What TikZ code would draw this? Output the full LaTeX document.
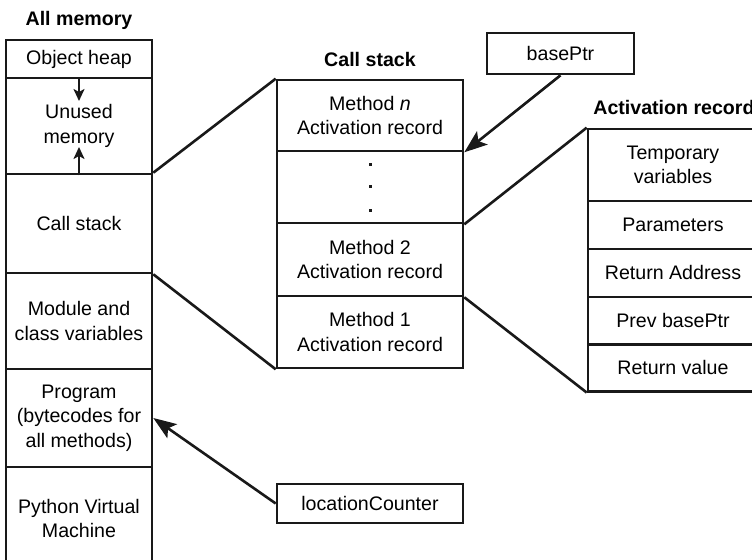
\documentclass[tikz,border=0pt]{standalone}
\usepackage{fontspec}
\setmainfont{Liberation Sans}
\usetikzlibrary{arrows.meta}
\tikzset{
  cell/.style={draw=black!90, line width=1.3pt, rectangle, inner sep=0pt, align=center,
    font=\fontsize{9.8}{12.3}\selectfont},
  ttl/.style={font=\fontsize{9.8}{12}\selectfont\bfseries, inner sep=0pt},
  conn/.style={draw=black!90, line width=1.3pt},
  bigarrow/.style={conn, -{Stealth[length=11.5pt,width=8.5pt,inset=2.5pt]}},
  smallarrow/.style={conn, -{Stealth[length=6pt,width=5.5pt,inset=1.5pt]}}
}
\begin{document}
\begin{tikzpicture}[x=0.5pt,y=-0.5pt]
\useasboundingbox (0,0) rectangle (752,560);
\clip (0,0) rectangle (752,560);
% All memory column
\node[ttl] (tall) at (79,20) {All memory};
\node[cell, minimum width=73pt, minimum height=19pt] (heap) at (79,59) {Object heap};
\node[cell, minimum width=73pt, minimum height=48pt] (unused) at (79,126) {Unused\\memory};
\node[cell, minimum width=73pt, minimum height=49.5pt] (cs) at (79,223.5) {Call stack};
\node[cell, minimum width=73pt, minimum height=48pt] (mod) at (79,321) {Module and\\class variables};
\node[cell, minimum width=73pt, minimum height=49pt] (prog) at (79,418) {Program\\(bytecodes for\\all methods)};
\node[cell, minimum width=73pt, minimum height=51.5pt] (pvm) at (79,518.5) {Python Virtual\\Machine};
\coordinate (hd) at (79,101);
\coordinate (uu) at (79,147);
\draw[smallarrow] (heap.south) -- (hd);
\draw[smallarrow] (unused.south) -- (uu);
% Call stack
\node[ttl] (tcs) at (370,60) {Call stack};
\node[cell, minimum width=93pt, minimum height=35.5pt] (mn) at (370,115.5) {Method \textit{n}\\Activation record};
\node[cell, minimum width=93pt, minimum height=36pt] (dots) at (370,187) {};
\fill[black!90] (368.5,163.5) rectangle (371.5,166.5);
\fill[black!90] (368.5,185.5) rectangle (371.5,188.5);
\fill[black!90] (368.5,209.5) rectangle (371.5,212.5);
\node[cell, minimum width=93pt, minimum height=36.5pt] (m2) at (370,259.5) {Method 2\\Activation record};
\node[cell, minimum width=93pt, minimum height=36pt] (m1) at (370,332) {Method 1\\Activation record};
\draw[conn] (cs.north east) -- (mn.north west);
\draw[conn] (cs.south east) -- (m1.south west);
% basePtr
\node[cell, minimum width=73.5pt, minimum height=20.5pt] (bp) at (560.5,53.5) {basePtr};
\draw[bigarrow] (bp.south) -- (mn.south east);
% Activation record
\node[ttl, anchor=west] (tar) at (593,108) {Activation record};
\node[cell, minimum width=85pt, minimum height=36pt] (tv) at (673,165) {Temporary\\variables};
\node[cell, minimum width=85pt, minimum height=24pt] (par) at (673,225) {Parameters};
\node[cell, minimum width=85pt, minimum height=24pt] (ra) at (673,273) {Return Address};
\node[cell, minimum width=85pt, minimum height=23.5pt] (pb) at (673,320.5) {Prev basePtr};
\node[cell, minimum width=85pt, minimum height=23.5pt] (rv) at (673,367.75) {Return value};
\draw[conn] (dots.south east) -- (tv.north west);
\draw[conn] (m2.south east) -- (rv.south west);
% locationCounter
\node[cell, minimum width=93pt, minimum height=19.5pt] (lc) at (370,503.5) {locationCounter};
\draw[bigarrow] (lc.west) -- (prog.east);
\end{tikzpicture}
\end{document}
